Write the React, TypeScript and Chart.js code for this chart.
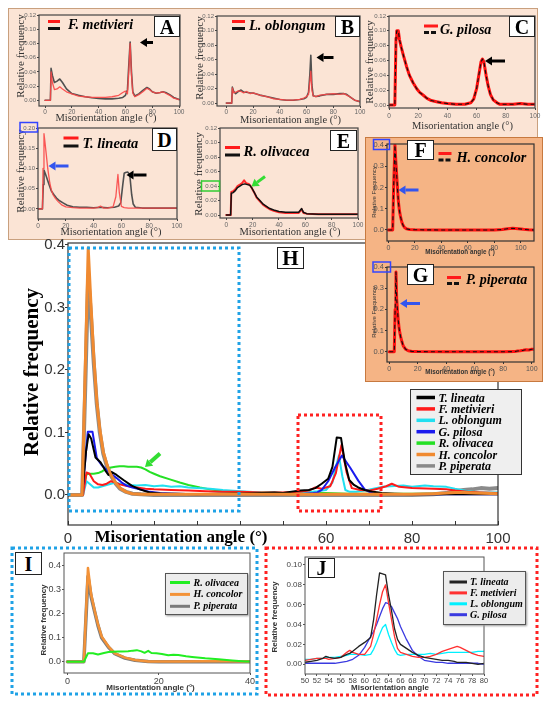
import React, { useEffect, useRef } from 'react';
import { Chart, registerables } from 'chart.js';
Chart.register(...registerables);

const SERIF = '"Liberation Serif", "Times New Roman", serif';
const SANS = '"Liberation Sans", Arial, sans-serif';

// ---------- Panel H (all species, 0-100°) : [angle, relative frequency]
const H_TLINEATA = [[0,0],[3.3,0],[4.2,0.07],[4.8,0.097],[5.4,0.09],[6.4,0.06],[7.6,0.052],[8.7,0.039],[9.4,0.032],[10.1,0.037],[11.3,0.032],[12.9,0.024],[14.8,0.015],[16.7,0.009],[19,0.004],[22,0.002],[25,0.002],[30,0.001],[35,0.002],[40,0.002],[45,0.003],[48,0.004],[50,0.003],[52,0.005],[54,0.007],[56,0.008],[57.5,0.011],[59,0.018],[60.5,0.026],[61.5,0.045],[62.5,0.092],[63.5,0.091],[64.4,0.052],[65.4,0.024],[66.5,0.016],[67.5,0.012],[69,0.008],[71,0.005],[73,0.003],[76,0.002],[80,0.001],[85,0.001],[90,0.001],[95,0.001],[100,0.001]];
const H_FMETIVIERI = [[0,0],[3.5,0],[4.3,0.036],[5,0.034],[6,0.022],[7,0.017],[8,0.016],[9,0.018],[10,0.022],[11,0.02],[12,0.017],[14,0.014],[16,0.012],[18,0.01],[20,0.009],[24,0.008],[28,0.007],[32,0.006],[36,0.005],[40,0.005],[45,0.004],[50,0.004],[54,0.005],[56,0.007],[57.5,0.012],[59,0.01],[61,0.014],[62.3,0.035],[63.6,0.08],[64.8,0.036],[66,0.011],[68,0.008],[70,0.007],[72,0.01],[74,0.014],[75.3,0.018],[77,0.013],[80,0.011],[85,0.01],[88,0.009],[90,0.007],[93,0.005],[96,0.004],[100,0.003]];
const H_LOBLONGUM = [[0,0],[3.5,0],[4.3,0.022],[5,0.018],[6,0.012],[7,0.012],[8,0.014],[9,0.016],[10,0.018],[11,0.02],[12,0.018],[14,0.016],[16,0.015],[18,0.016],[20,0.014],[22,0.015],[24,0.013],[26,0.014],[28,0.012],[30,0.011],[33,0.01],[36,0.008],[40,0.006],[45,0.004],[50,0.003],[55,0.004],[58,0.006],[60,0.008],[61.5,0.02],[62.3,0.045],[63,0.063],[63.8,0.03],[64.5,0.008],[65.5,0.005],[67,0.005],[69,0.007],[71,0.01],[73,0.013],[75,0.014],[78,0.015],[80,0.013],[83,0.015],[85,0.014],[88,0.013],[90,0.01],[93,0.006],[96,0.004],[100,0.004]];
const H_GPILOSA = [[0,0],[3.3,0],[4.2,0.07],[4.6,0.101],[5.7,0.101],[6.7,0.059],[7.8,0.048],[9,0.04],[10,0.034],[11.3,0.027],[12.5,0.02],[13.6,0.015],[15,0.012],[16.7,0.009],[19,0.005],[21.4,0.003],[25,0.002],[30,0.001],[40,0.001],[50,0.001],[55,0.002],[57,0.003],[58,0.004],[59,0.008],[60.5,0.022],[62.1,0.044],[63.7,0.063],[65.6,0.044],[67.5,0.023],[69,0.009],[70.6,0.003],[72,0.002],[75,0.001],[80,0.001],[90,0.001],[100,0.001]];
const H_ROLIVACEA = [[0,0],[3.3,0],[4.3,0.033],[5,0.034],[6,0.034],[7,0.035],[8,0.038],[9,0.042],[10,0.044],[11,0.045],[12,0.046],[13,0.046],[14,0.045],[15,0.045],[16,0.045],[17,0.044],[18,0.041],[19,0.037],[20,0.034],[21.4,0.03],[23.7,0.025],[26,0.02],[28,0.016],[30.7,0.012],[33,0.009],[35,0.007],[38,0.005],[40,0.004],[45,0.004],[50,0.003],[55,0.003],[60,0.003],[65,0.002],[70,0.002],[80,0.002],[90,0.002],[100,0.002]];
const H_HCONCOLOR = [[0,0],[3.3,0],[4,0.2],[4.7,0.395],[5.3,0.31],[6,0.22],[6.7,0.15],[7.4,0.105],[8.2,0.069],[9,0.05],[9.8,0.035],[11,0.02],[12.1,0.011],[13.5,0.005],[15,0.002],[17,0.001],[20,0.001],[40,0.001],[60,0.001],[80,0.001],[85,0.002],[88,0.003],[90,0.004],[92,0.004],[95,0.003],[100,0.002]];
const H_PPIPERATA = [[0,0],[3.3,0],[4,0.17],[4.7,0.35],[5.3,0.29],[6,0.21],[6.7,0.145],[7.4,0.1],[8.2,0.066],[9,0.047],[9.8,0.033],[11,0.019],[12.1,0.01],[13.5,0.005],[15,0.002],[17,0.001],[20,0],[40,0],[60,0],[80,0],[85,0.001],[88,0.003],[90,0.006],[92,0.008],[94,0.009],[96,0.011],[98,0.01],[100,0.011]];

// ---------- Panels A-E (two measurements each)
const A_BLACK = [[0,0],[4,0],[4.5,0.045],[5.5,0.035],[7,0.025],[9,0.027],[11,0.03],[13,0.025],[16,0.016],[20,0.0095],[25,0.007],[30,0.005],[35,0.0035],[40,0.0025],[45,0.002],[50,0.002],[55,0.003],[58,0.004],[60,0.007],[61.5,0.015],[62.5,0.05],[63.5,0.082],[64.5,0.04],[65.5,0.012],[67,0.006],[70,0.009],[73,0.014],[76,0.018],[78,0.016],[80,0.012],[83,0.01],[86,0.011],[88,0.012],[90,0.011],[93,0.008],[96,0.004],[100,0.001]];
const A_RED = [[0,0],[4,0],[4.5,0.04],[5.5,0.025],[7,0.015],[9,0.016],[11,0.019],[13,0.016],[16,0.012],[20,0.009],[25,0.006],[30,0.005],[35,0.004],[40,0.004],[45,0.004],[50,0.005],[55,0.007],[58,0.011],[60,0.013],[61.5,0.009],[62.5,0.04],[63.5,0.08],[64.5,0.035],[65.5,0.01],[67,0.005],[70,0.008],[73,0.012],[76,0.017],[78,0.015],[80,0.012],[83,0.01],[86,0.011],[88,0.012],[90,0.01],[93,0.007],[96,0.003],[100,0.001]];
const B_BLACK = [[0,0],[4,0],[4.5,0.022],[5.5,0.016],[7,0.013],[9,0.016],[11,0.018],[13,0.015],[15,0.015],[18,0.014],[20,0.014],[25,0.011],[30,0.009],[35,0.007],[40,0.005],[45,0.004],[50,0.004],[55,0.005],[58,0.006],[60,0.008],[61.5,0.015],[62.5,0.04],[63.2,0.066],[64,0.025],[65,0.01],[67,0.009],[70,0.01],[75,0.012],[80,0.012],[85,0.013],[88,0.013],[90,0.012],[93,0.008],[96,0.004],[100,0.002]];
const B_RED = [[0,0],[4,0],[4.5,0.021],[5.5,0.014],[7,0.015],[9,0.017],[11,0.016],[13,0.014],[15,0.016],[18,0.013],[20,0.014],[25,0.011],[30,0.009],[35,0.006],[40,0.005],[45,0.004],[50,0.004],[55,0.005],[58,0.007],[60,0.009],[61.5,0.012],[62.5,0.03],[63.2,0.044],[64,0.018],[65,0.01],[67,0.009],[70,0.011],[75,0.012],[80,0.013],[85,0.012],[88,0.013],[90,0.011],[93,0.008],[96,0.004],[100,0.002]];
const C_GPILOSA = [[0,0],[4,0],[4.8,0.09],[5.3,0.1],[6.4,0.1],[7.2,0.088],[8.5,0.077],[10,0.066],[12,0.052],[14,0.04],[16.5,0.03],[19,0.022],[21,0.017],[23.3,0.0135],[26,0.009],[29,0.006],[32.5,0.0045],[36,0.003],[40,0.002],[46,0.001],[52,0.001],[56,0.003],[58,0.008],[60,0.022],[61.5,0.04],[63,0.058],[64,0.062],[65,0.058],[66.5,0.04],[68,0.025],[69.5,0.014],[71.4,0.007],[74,0.003],[76,0.001],[85,0.001],[90,0.002],[95,0.001],[100,0.001]];
const D_RED = [[0,0],[3.2,0],[3.6,0.1],[4.3,0.186],[5,0.165],[6,0.133],[7,0.1],[8.5,0.064],[9.5,0.048],[10.8,0.035],[12.5,0.026],[14.5,0.018],[17,0.01],[20,0.005],[25,0.003],[30,0.002],[35,0.002],[40,0.002],[43,0.003],[45,0.007],[47,0.002],[50,0.002],[54,0.005],[56,0.03],[57.5,0.085],[58.5,0.04],[60,0.006],[62,0.003],[65,0.002],[70,0.002],[80,0.002],[90,0.002],[100,0.002]];
const D_BLACK = [[0,0],[3.2,0],[3.8,0.06],[4.3,0.096],[5.5,0.085],[7.2,0.068],[8.5,0.055],[9.6,0.044],[11.5,0.035],[13.3,0.027],[15.5,0.02],[18,0.015],[21,0.009],[25,0.005],[30,0.004],[35,0.004],[40,0.003],[45,0.004],[50,0.003],[55,0.004],[58,0.007],[59.5,0.015],[61,0.06],[62,0.088],[63,0.09],[64.5,0.091],[66,0.085],[67.4,0.035],[68.5,0.012],[70,0.004],[75,0.002],[80,0.002],[90,0.002],[100,0.002]];
const E_BLACK = [[0,0],[3.3,0],[3.8,0.03],[5.2,0.031],[7,0.034],[8.5,0.038],[10.3,0.04],[12,0.042],[14,0.043],[16,0.042],[17.9,0.041],[19.5,0.037],[21,0.032],[23,0.025],[25.5,0.02],[28,0.015],[30.5,0.012],[33,0.009],[36,0.007],[40,0.005],[45,0.004],[50,0.004],[55,0.004],[57.2,0.009],[58.5,0.004],[61,0.002],[70,0.001],[80,0.001],[90,0.001],[100,0.001]];
const E_RED = [[0,0],[3.3,0],[3.8,0.032],[5.2,0.033],[7,0.036],[8.5,0.04],[10.3,0.042],[12,0.044],[13.5,0.048],[15,0.044],[17,0.043],[18.5,0.04],[20,0.035],[21.5,0.03],[23,0.024],[25.5,0.019],[28,0.014],[30.5,0.011],[33,0.008],[36,0.006],[40,0.004],[45,0.003],[50,0.003],[55,0.003],[57.2,0.008],[58.5,0.003],[61,0.002],[70,0.001],[80,0.001],[90,0.001],[100,0.001]];
const F_HCONCOLOR = [[0,0],[3.3,0],[4,0.2],[5,0.4],[5.6,0.33],[6.3,0.26],[7,0.19],[7.6,0.133],[8.4,0.09],[9.3,0.06],[10.3,0.035],[11.3,0.02],[12.5,0.01],[13.8,0.005],[16,0.002],[20,0.001],[40,0],[60,0],[80,0],[86,0.002],[90,0.006],[94,0.008],[98,0.006],[102,0.003],[106,0.001],[110,0]];
const G_PPIPERATA = [[0,0],[3.5,0],[4.1,0.2],[4.7,0.376],[5.2,0.25],[5.8,0.19],[6.3,0.149],[7,0.105],[8,0.07],[9,0.045],[9.8,0.028],[11.5,0.012],[13.3,0.005],[16,0.002],[20,0.001],[40,0],[60,0],[80,0],[88,0.001],[90,0.004],[92,0.005],[94,0.007],[96,0.01],[98,0.009],[100,0.012],[101.6,0.012]];

// ---------- Panel I (0-40°)
const I_HCONCOLOR = [[0,0],[3.6,0],[4.5,0.39],[5.2,0.28],[6,0.21],[6.7,0.155],[7.5,0.105],[9,0.063],[10.4,0.035],[12.6,0.017],[14.8,0.007],[17.7,0.001],[20,0.001],[25,0.001],[30,0.002],[35,0.002],[40,0.001]];
const I_PPIPERATA = [[0,0],[3.6,0],[4.5,0.354],[5.2,0.27],[6,0.205],[6.7,0.15],[7.5,0.1],[9,0.06],[10.4,0.033],[12.6,0.015],[14.8,0.006],[17.7,0.001],[20,0],[25,0],[30,0],[35,0],[40,0]];
const I_ROLIVACEA = [[0,0],[3.6,0],[4.5,0.035],[5.6,0.035],[6.7,0.03],[8,0.036],[9,0.04],[10,0.041],[11.1,0.042],[12,0.042],[13.3,0.043],[14.3,0.046],[15.2,0.048],[16.2,0.043],[16.9,0.037],[17.7,0.045],[18.4,0.036],[19.5,0.035],[20.7,0.032],[22.1,0.027],[23.2,0.029],[24.3,0.028],[26,0.023],[27.3,0.02],[30.2,0.014],[33.1,0.01],[36.1,0.005],[39,0.001],[40,0.001]];

// ---------- Panel J (50-80°)
const J_ANGLES = [50,51,52,53,53.5,54,55,56,57,57.5,58,59,60,61,61.5,62,62.5,63,63.5,64,64.5,65,65.5,66,67,68,69,70,71,72,73,74,75,75.5,76,77,78,79,80];
const J_TLINEATA = [0.002,0.003,0.004,0.006,0.008,0.007,0.006,0.007,0.01,0.011,0.013,0.018,0.022,0.027,0.045,0.07,0.092,0.091,0.09,0.07,0.054,0.036,0.025,0.02,0.016,0.012,0.009,0.007,0.006,0.005,0.004,0.004,0.003,0.002,0.002,0.002,0.001,0,0.001];
const J_FMETIVIERI = [0.004,0.005,0.006,0.006,0.006,0.005,0.006,0.007,0.012,0.014,0.012,0.01,0.01,0.018,0.03,0.045,0.06,0.073,0.08,0.062,0.045,0.028,0.016,0.012,0.01,0.008,0.007,0.007,0.008,0.01,0.013,0.015,0.017,0.018,0.017,0.014,0.011,0.009,0.008];
const J_LOBLONGUM = [0.005,0.005,0.006,0.006,0.007,0.007,0.007,0.008,0.009,0.01,0.01,0.01,0.009,0.01,0.015,0.022,0.03,0.037,0.04,0.03,0.022,0.015,0.01,0.009,0.01,0.01,0.01,0.01,0.011,0.01,0.011,0.012,0.012,0.012,0.012,0.012,0.012,0.013,0.013];
const J_GPILOSA = [0.001,0.001,0.001,0.001,0.001,0.001,0.001,0.002,0.003,0.004,0.005,0.009,0.017,0.028,0.033,0.04,0.048,0.056,0.062,0.061,0.058,0.052,0.046,0.038,0.025,0.014,0.008,0.004,0.003,0.002,0.002,0.001,0.001,0.001,0.001,0.001,0.001,0.001,0];

const H_LEGEND = ['T. lineata', 'F. metivieri', 'L. oblongum', 'G. pilosa', 'R. olivacea', 'H. concolor', 'P. piperata'];
const I_LEGEND = ['R. olivacea', 'H. concolor', 'P. piperata'];
const J_LEGEND = ['T. lineata', 'F. metivieri', 'L. oblongum', 'G. pilosa'];

const C_BLACK = '#000000', C_RED = '#ff1a1a', C_CYAN = '#22dff0', C_BLUE = '#1a1aee', C_GREEN = '#25e025', C_ORANGE = '#f08a30', C_GRAY = '#8a8a8a';
const H_LEG_COLORS = [C_BLACK, C_RED, C_CYAN, C_BLUE, C_GREEN, C_ORANGE, C_GRAY];

type Series = { pts: number[][]; color: string; width: number; dash?: number[]; order?: number };
type Cfg = {
  L: number; T: number; W: number; H: number;
  xMin: number; xMax: number; yMin: number; yMax: number;
  xStep: number; yStep: number; yDec: number;
  xFont: number; yFont: number; tickColor: string;
  frame: string; frameW: number; tickLen: number; xPad: number; yPad: number;
  padL: number; padB: number; z: number;
  xLabels?: number[]; inwardX?: boolean;
  series: Series[];
};

function Plot({ c }: { c: Cfg }) {
  const ref = useRef<HTMLCanvasElement>(null);
  const padT = 12, padR = 20;
  const cw = c.padL + c.W + padR;
  const ch = padT + c.H + c.padB;
  useEffect(() => {
    const frame = {
      id: 'frame',
      afterDatasetsDraw(chart: any) {
        const { ctx, chartArea: a } = chart;
        ctx.save();
        ctx.strokeStyle = c.frame;
        ctx.lineWidth = c.frameW;
        ctx.strokeRect(a.left, a.top, a.right - a.left, a.bottom - a.top);
        if (c.inwardX) {
          const xs = chart.scales.x;
          ctx.lineWidth = 1;
          xs.ticks.forEach((t: any) => {
            const px = Math.round(xs.getPixelForValue(t.value)) + 0.5;
            ctx.beginPath();
            ctx.moveTo(px, a.bottom);
            ctx.lineTo(px, a.bottom - 4);
            ctx.stroke();
          });
        }
        ctx.restore();
      },
    };
    const chart = new Chart(ref.current as HTMLCanvasElement, {
      type: 'line',
      data: {
        datasets: c.series.map((s) => ({
          data: s.pts.map((p) => ({ x: p[0], y: p[1] })),
          borderColor: s.color,
          borderWidth: s.width,
          borderDash: s.dash || [],
          pointRadius: 0,
          tension: 0,
          fill: false,
          order: s.order ?? 0,
          borderJoinStyle: 'round',
          borderCapStyle: s.dash ? 'butt' : 'round',
        })),
      },
      options: {
        animation: false,
        responsive: false,
        maintainAspectRatio: false,
        devicePixelRatio: 1,
        events: [],
        layout: { autoPadding: false, padding: { top: padT, right: padR, left: 0, bottom: 0 } },
        plugins: { legend: { display: false }, tooltip: { enabled: false } },
        scales: {
          x: {
            type: 'linear',
            min: c.xMin,
            max: c.xMax,
            afterFit: (s: any) => { s.height = c.padB; },
            border: { display: false },
            grid: { display: !c.inwardX, drawOnChartArea: false, drawTicks: !c.inwardX, tickLength: c.tickLen, color: c.frame, tickColor: c.frame },
            ticks: {
              stepSize: c.xStep,
              includeBounds: false,
              autoSkip: false,
              maxRotation: 0,
              minRotation: 0,
              padding: c.xPad,
              color: c.tickColor,
              font: { family: 'Liberation Sans', size: c.xFont },
              callback: (v: any) => (c.xLabels && !c.xLabels.includes(Number(v)) ? '' : String(v)),
            },
          },
          y: {
            type: 'linear',
            min: c.yMin,
            max: c.yMax,
            afterFit: (s: any) => { s.width = c.padL; },
            border: { display: false },
            grid: { display: true, drawOnChartArea: false, drawTicks: true, tickLength: c.tickLen, color: c.frame, tickColor: c.frame },
            ticks: {
              stepSize: c.yStep,
              includeBounds: false,
              autoSkip: false,
              padding: c.yPad,
              color: c.tickColor,
              font: { family: 'Liberation Sans', size: c.yFont },
              callback: (v: any) => Number(v).toFixed(c.yDec),
            },
          },
        },
      },
      plugins: [frame],
    } as any);
    return () => chart.destroy();
  }, []);
  return (
    <canvas
      ref={ref}
      width={cw}
      height={ch}
      style={{ position: 'absolute', left: c.L - c.padL, top: c.T - padT, width: cw, height: ch, zIndex: c.z }}
    />
  );
}

const small = { xStep: 20, yStep: 0.02, yDec: 2, xFont: 6.5, yFont: 6, tickColor: '#666', frame: '#444', frameW: 1.2, tickLen: 2, xPad: 0, yPad: 1, padL: 30, padB: 12, z: 2 };
const twoLines = (black: number[][], red: number[][], redTop: boolean): Series[] => [
  { pts: black, color: '#505050', width: 1.6, order: redTop ? 2 : 1 },
  { pts: red, color: 'rgba(250,70,70,0.9)', width: redTop ? 1.3 : 2, order: redTop ? 1 : 2 },
];

const CFG_A: Cfg = { ...small, L: 39, T: 15, W: 141, H: 91, xMin: -4.5, xMax: 100.7, yMin: -0.008, yMax: 0.12, series: twoLines(A_BLACK, A_RED, true) };
const CFG_B: Cfg = { ...small, L: 217, T: 16, W: 143, H: 90, xMin: -7, xMax: 100, yMin: -0.004, yMax: 0.12, series: twoLines(B_BLACK, B_RED, true) };
const CFG_C: Cfg = { ...small, L: 389, T: 16, W: 146, H: 92, xMin: 0, xMax: 100, yMin: -0.004, yMax: 0.12, xPad: 2,
  series: [{ pts: C_GPILOSA, color: '#ff1010', width: 3, order: 2 }, { pts: C_GPILOSA, color: '#111', width: 1.1, dash: [4, 3], order: 1 }] };
const CFG_D: Cfg = { ...small, L: 38, T: 128, W: 139, H: 91, xMin: 0, xMax: 100, yMin: -0.025, yMax: 0.2, yStep: 0.05, xPad: 1, series: twoLines(D_BLACK, D_RED, true) };
const CFG_E: Cfg = { ...small, L: 220, T: 128, W: 138, H: 90, xMin: -4.8, xMax: 100, yMin: -0.004, yMax: 0.12, xPad: 1,
  series: [{ pts: E_BLACK, color: '#111', width: 1.5, order: 1 }, { pts: E_RED, color: '#ff2a2a', width: 2, order: 2 }] };
const fg = { xStep: 20, yStep: 0.1, yDec: 1, xFont: 7, yFont: 7.5, tickColor: '#555', frame: '#333', frameW: 1.2, tickLen: 2, xPad: 1, yPad: 1, padL: 30, padB: 12, z: 4 };
const CFG_F: Cfg = { ...fg, L: 387, T: 144, W: 147, H: 97, xMin: -1, xMax: 110, yMin: -0.052, yMax: 0.405, xLabels: [0, 20, 40, 60, 80, 100],
  series: [{ pts: F_HCONCOLOR, color: '#ff1010', width: 3, order: 2 }, { pts: F_HCONCOLOR, color: '#111', width: 1.1, dash: [4, 3], order: 1 }] };
const CFG_G: Cfg = { ...fg, L: 387, T: 267, W: 147, H: 95, xMin: -1.6, xMax: 101.6, yMin: -0.048, yMax: 0.4,
  series: [{ pts: G_PPIPERATA, color: '#ff1010', width: 3, order: 2 }, { pts: G_PPIPERATA, color: '#111', width: 1.1, dash: [4, 3], order: 1 }] };
const CFG_H: Cfg = {
  L: 68, T: 243, W: 430, H: 282, xMin: 0, xMax: 100, yMin: -0.048, yMax: 0.403, xStep: 10, yStep: 0.1, yDec: 1,
  xFont: 15, yFont: 15, tickColor: '#333', frame: '#333', frameW: 1.2, tickLen: 3, xPad: 5, yPad: 0, padL: 45, padB: 25, z: 2,
  xLabels: [0, 60, 80, 100], inwardX: true,
  series: [
    { pts: H_PPIPERATA, color: C_GRAY, width: 4, order: 7 },
    { pts: H_ROLIVACEA, color: C_GREEN, width: 2, order: 6 },
    { pts: H_LOBLONGUM, color: C_CYAN, width: 2, order: 5 },
    { pts: H_FMETIVIERI, color: C_RED, width: 2, order: 4 },
    { pts: H_GPILOSA, color: C_BLUE, width: 2, order: 3 },
    { pts: H_TLINEATA, color: C_BLACK, width: 2, order: 2 },
    { pts: H_HCONCOLOR, color: C_ORANGE, width: 3, order: 1 },
  ],
};
const CFG_I: Cfg = {
  L: 64, T: 553, W: 186, H: 120, xMin: -0.75, xMax: 40, yMin: -0.047, yMax: 0.452, xStep: 20, yStep: 0.1, yDec: 1,
  xFont: 9, yFont: 9, tickColor: '#444', frame: '#555', frameW: 1, tickLen: 2, xPad: 1, yPad: 1, padL: 35, padB: 14, z: 2,
  series: [
    { pts: I_PPIPERATA, color: '#7a7a7a', width: 3.5, order: 3 },
    { pts: I_HCONCOLOR, color: '#f39237', width: 2.5, order: 2 },
    { pts: I_ROLIVACEA, color: '#22ee22', width: 2, order: 1 },
  ],
};
const jPts = (vals: number[]) => J_ANGLES.map((a, i) => [a, vals[i]]);
const CFG_J: Cfg = {
  L: 305, T: 557, W: 179, H: 117, xMin: 50, xMax: 80, yMin: -0.0098, yMax: 0.108, xStep: 2, yStep: 0.02, yDec: 2,
  xFont: 7.5, yFont: 8, tickColor: '#444', frame: '#555', frameW: 1, tickLen: 2, xPad: 0, yPad: 1, padL: 30, padB: 12, z: 2,
  series: [
    { pts: jPts(J_LOBLONGUM), color: '#00f0ff', width: 1.3, order: 4 },
    { pts: jPts(J_GPILOSA), color: '#3a3ae0', width: 1.3, order: 3 },
    { pts: jPts(J_FMETIVIERI), color: '#ff3030', width: 1.3, order: 2 },
    { pts: jPts(J_TLINEATA), color: '#222', width: 1.3, order: 1 },
  ],
};

type TP = { x: number; y: number; t: string; s: number; b?: boolean; i?: boolean; f?: string; c?: string; rot?: number; start?: boolean };
const Txt = (p: TP) => (
  <div
    style={{
      position: 'absolute', left: p.x, top: p.y,
      transform: `translate(${p.start ? '0' : '-50%'}, -50%) rotate(${p.rot || 0}deg)`,
      fontFamily: p.f || SERIF, fontSize: p.s, fontWeight: p.b ? 'bold' : 'normal', fontStyle: p.i ? 'italic' : 'normal',
      color: p.c || '#000', whiteSpace: 'nowrap', lineHeight: 1, zIndex: 10,
    }}
  >
    {p.t}
  </div>
);
const Lbl = (p: { x: number; y: number; w: number; h: number; t: string; s?: number }) => (
  <div
    style={{
      position: 'absolute', left: p.x, top: p.y, width: p.w, height: p.h, boxSizing: 'border-box',
      border: '1.5px solid #222', background: '#fff', display: 'flex', alignItems: 'center', justifyContent: 'center',
      fontFamily: SERIF, fontWeight: 'bold', fontSize: p.s || 20, lineHeight: 1, zIndex: 10,
    }}
  >
    {p.t}
  </div>
);
function Arrow(p: { x1: number; y1: number; x2: number; y2: number; c: string; w?: number }) {
  const w = p.w || 3, hl = 7, hw = 4.5;
  const dx = p.x2 - p.x1, dy = p.y2 - p.y1, L = Math.hypot(dx, dy), ux = dx / L, uy = dy / L;
  const bx = p.x2 - ux * hl, by = p.y2 - uy * hl, nx = -uy, ny = ux;
  return (
    <g>
      <line x1={p.x1} y1={p.y1} x2={bx} y2={by} stroke={p.c} strokeWidth={w} />
      <polygon points={`${p.x2},${p.y2} ${bx + nx * hw},${by + ny * hw} ${bx - nx * hw},${by - ny * hw}`} fill={p.c} />
    </g>
  );
}
const Icon = (p: { x: number; y1: number; y2: number; w: number; dashed?: boolean }) => (
  <g>
    <line x1={p.x} y1={p.y1} x2={p.x + p.w} y2={p.y1} stroke="#ff1a1a" strokeWidth={3} />
    <line x1={p.x} y1={p.y2} x2={p.x + p.w} y2={p.y2} stroke="#111" strokeWidth={3} strokeDasharray={p.dashed ? '5 2' : undefined} />
  </g>
);

export default function App() {
  const smallTitle = { s: 10.5, c: '#333' };
  return (
    <div style={{ position: 'absolute', left: 0, top: 0, width: 550, height: 702, overflow: 'hidden', background: '#fff' }}>
      {/* background panels */}
      <div style={{ position: 'absolute', left: 8, top: 8, width: 530, height: 232, boxSizing: 'border-box', background: '#fbe4d5', border: '1px solid #c9a07e', zIndex: 1 }} />
      <div style={{ position: 'absolute', left: 365, top: 137, width: 178, height: 245, boxSizing: 'border-box', background: '#f5b485', border: '1px solid #c7793f', zIndex: 3 }} />

      <Plot c={CFG_A} />
      <Plot c={CFG_B} />
      <Plot c={CFG_C} />
      <Plot c={CFG_D} />
      <Plot c={CFG_E} />
      <Plot c={CFG_F} />
      <Plot c={CFG_G} />
      <Plot c={CFG_H} />
      <Plot c={CFG_I} />
      <Plot c={CFG_J} />

      {/* axis titles A-E */}
      <Txt x={20} y={56} t="Relative frequency" s={11} c="#333" rot={-90} />
      <Txt x={106} y={117.5} t="Misorientation angle (°)" {...smallTitle} />
      <Txt x={198.5} y={58} t="Relative frequency" s={11} c="#333" rot={-90} />
      <Txt x={290.5} y={120} t="Misorientation angle (°)" {...smallTitle} />
      <Txt x={368.5} y={62} t="Relative frequency" s={11} c="#333" rot={-90} />
      <Txt x={462.5} y={126} t="Misorientation angle (°)" {...smallTitle} />
      <Txt x={20} y={171} t="Relative frequency" s={11} c="#333" rot={-90} />
      <Txt x={111} y={231.5} t="Misorientation angle (°)" {...smallTitle} />
      <Txt x={197.5} y={174} t="Relative frequency" s={11} c="#333" rot={-90} />
      <Txt x={290} y={231.5} t="Misorientation angle (°)" {...smallTitle} />
      {/* F, G titles */}
      <Txt x={373.5} y={192} t="Relative Frequency" s={6} f={SANS} c="#333" rot={-90} />
      <Txt x={460} y={251.5} t="Misorientation angle (°)" s={6.3} b f={SANS} c="#333" />
      <Txt x={374} y={312} t="Relative Frequency" s={6} f={SANS} c="#333" rot={-90} />
      <Txt x={460} y={371.5} t="Misorientation angle (°)" s={6.3} b f={SANS} c="#333" />
      {/* H titles */}
      <Txt x={31} y={372} t="Relative frequency" s={21} b rot={-90} />
      <Txt x={181} y={536} t="Misorientation angle (°)" s={17} b />
      {/* I, J titles */}
      <Txt x={43.5} y={620} t="Relative frequency" s={8} b f={SANS} c="#333" rot={-90} />
      <Txt x={150.5} y={687.5} t="Misorientation angle (°)" s={8} b f={SANS} c="#333" />
      <Txt x={275} y={617} t="Relative frequency" s={8} b f={SANS} c="#333" rot={-90} />
      <Txt x={390} y={687.5} t="Misorientation angle" s={8} b f={SANS} c="#333" />

      {/* panel legends (species names) */}
      <Txt x={68} y={25} t="F. metivieri" s={14} b i start />
      <Txt x={249} y={25} t="L. oblongum" s={14.5} b i start />
      <Txt x={440} y={30} t="G. pilosa" s={14} b i start />
      <Txt x={82.5} y={142.5} t="T. lineata" s={14.5} b i start />
      <Txt x={243.5} y={151} t="R. olivacea" s={14.5} b i start />
      <Txt x={456.5} y={156.5} t="H. concolor" s={14.3} b i start />
      <Txt x={466} y={280} t="P. piperata" s={14} b i start />

      {/* panel letters */}
      <Lbl x={154} y={16} w={26} h={21} t="A" />
      <Lbl x={335} y={16} w={25} h={21} t="B" />
      <Lbl x={509} y={16} w={26} h={21} t="C" />
      <Lbl x={152} y={128} w={25} h={23} t="D" />
      <Lbl x={330} y={130} w={27} h={21} t="E" />
      <Lbl x={407} y={140} w={27} h={20} t="F" />
      <Lbl x={407} y={264} w={27} h={21} t="G" />
      <Lbl x={277} y={247} w={27} h={22} t="H" s={21} />
      <Lbl x={15} y={552} w={27} h={23} t="I" />
      <Lbl x={308} y={558} w={27} h={20} t="J" />

      {/* H legend */}
      <div style={{ position: 'absolute', left: 410, top: 389, width: 112, height: 86, boxSizing: 'border-box', background: '#efefef', border: '1px solid #333', zIndex: 10 }} />
      {H_LEGEND.map((n, i) => (
        <Txt key={n} x={438.5} y={397.5 + i * 11.4} t={n} s={12} b i start />
      ))}
      {/* I legend */}
      <div style={{ position: 'absolute', left: 165, top: 573, width: 83, height: 42, boxSizing: 'border-box', background: '#ececec', border: '1px solid #555', boxShadow: '1px 1px 2px #999', zIndex: 10 }} />
      {I_LEGEND.map((n, i) => (
        <Txt key={n} x={193.5} y={582.5 + i * 11.9} t={n} s={10} b i start />
      ))}
      {/* J legend */}
      <div style={{ position: 'absolute', left: 443, top: 571, width: 83, height: 54, boxSizing: 'border-box', background: '#ececec', border: '1px solid #555', boxShadow: '1px 1px 2px #999', zIndex: 10 }} />
      {J_LEGEND.map((n, i) => (
        <Txt key={n} x={470} y={582 + i * 10.9} t={n} s={10} b i start />
      ))}

      <svg width={550} height={702} style={{ position: 'absolute', left: 0, top: 0, zIndex: 11, pointerEvents: 'none' }}>
        {/* legend line samples */}
        {H_LEG_COLORS.map((col, i) => (
          <line key={i} x1={416.5} x2={435} y1={397.5 + i * 11.4} y2={397.5 + i * 11.4} stroke={col} strokeWidth={3.5} />
        ))}
        {['#22ee22', '#f39237', '#7a7a7a'].map((col, i) => (
          <line key={'i' + i} x1={170} x2={190} y1={582.5 + i * 11.9} y2={582.5 + i * 11.9} stroke={col} strokeWidth={3} />
        ))}
        {['#222', '#ff3030', '#00f0ff', '#3a3ae0'].map((col, i) => (
          <line key={'j' + i} x1={449.5} x2={467} y1={582 + i * 10.9} y2={582 + i * 10.9} stroke={col} strokeWidth={3} />
        ))}
        {/* small panel legend icons */}
        <Icon x={48} y1={21.5} y2={28.5} w={12} />
        <Icon x={232} y1={21.5} y2={28.5} w={13} />
        <Icon x={424} y1={26} y2={32.5} w={14} dashed />
        <Icon x={63.5} y1={138} y2={146} w={15} />
        <Icon x={225} y1={147.5} y2={155} w={15} />
        <Icon x={438.5} y1={153.5} y2={160} w={13} dashed />
        <Icon x={447} y1={277.5} y2={283.5} w={14} dashed />
        {/* arrows */}
        <Arrow x1={153} y1={42.5} x2={140} y2={42.5} c="#000" />
        <Arrow x1={333.5} y1={57.5} x2={316.5} y2={57.5} c="#000" />
        <Arrow x1={505} y1={61} x2={485} y2={61} c="#000" />
        <Arrow x1={68.5} y1={166} x2={48.5} y2={166} c="#3355ee" />
        <Arrow x1={146.5} y1={175} x2={126.5} y2={175} c="#000" />
        <Arrow x1={265} y1={176.5} x2={251.5} y2={186.5} c="#33dd33" />
        <Arrow x1={418.5} y1={190} x2={398.5} y2={190} c="#3355ee" />
        <Arrow x1={420} y1={303.5} x2={400} y2={303.5} c="#3355ee" />
        <Arrow x1={160} y1={453.5} x2={145} y2={467} c="#33dd33" w={4} />
        {/* highlighted tick labels */}
        <rect x={20} y={122.5} width={17.5} height={9.5} fill="none" stroke="#3344ff" strokeWidth={1.5} />
        <rect x={201.5} y={181} width={18} height={10} fill="none" stroke="#33cc33" strokeWidth={1.5} />
        <rect x={373.5} y={139.5} width={16} height={10} fill="none" stroke="#3344ff" strokeWidth={1.5} />
        <rect x={373} y={262} width={17.5} height={10} fill="none" stroke="#3344ff" strokeWidth={1.5} />
        {/* dotted zoom boxes */}
        <rect x={69} y={248} width={170} height={263} fill="none" stroke="#1fa2e6" strokeWidth={3} strokeDasharray="3 3" />
        <rect x={298} y={415} width={83} height={96} fill="none" stroke="#ff2222" strokeWidth={3} strokeDasharray="3 3" />
        <rect x={12} y={548} width={245} height={146} fill="none" stroke="#1fa2e6" strokeWidth={3} strokeDasharray="3 3" />
        <rect x={266} y={548} width={271} height={147} fill="none" stroke="#ff2222" strokeWidth={3} strokeDasharray="3 3" />
      </svg>
    </div>
  );
}
